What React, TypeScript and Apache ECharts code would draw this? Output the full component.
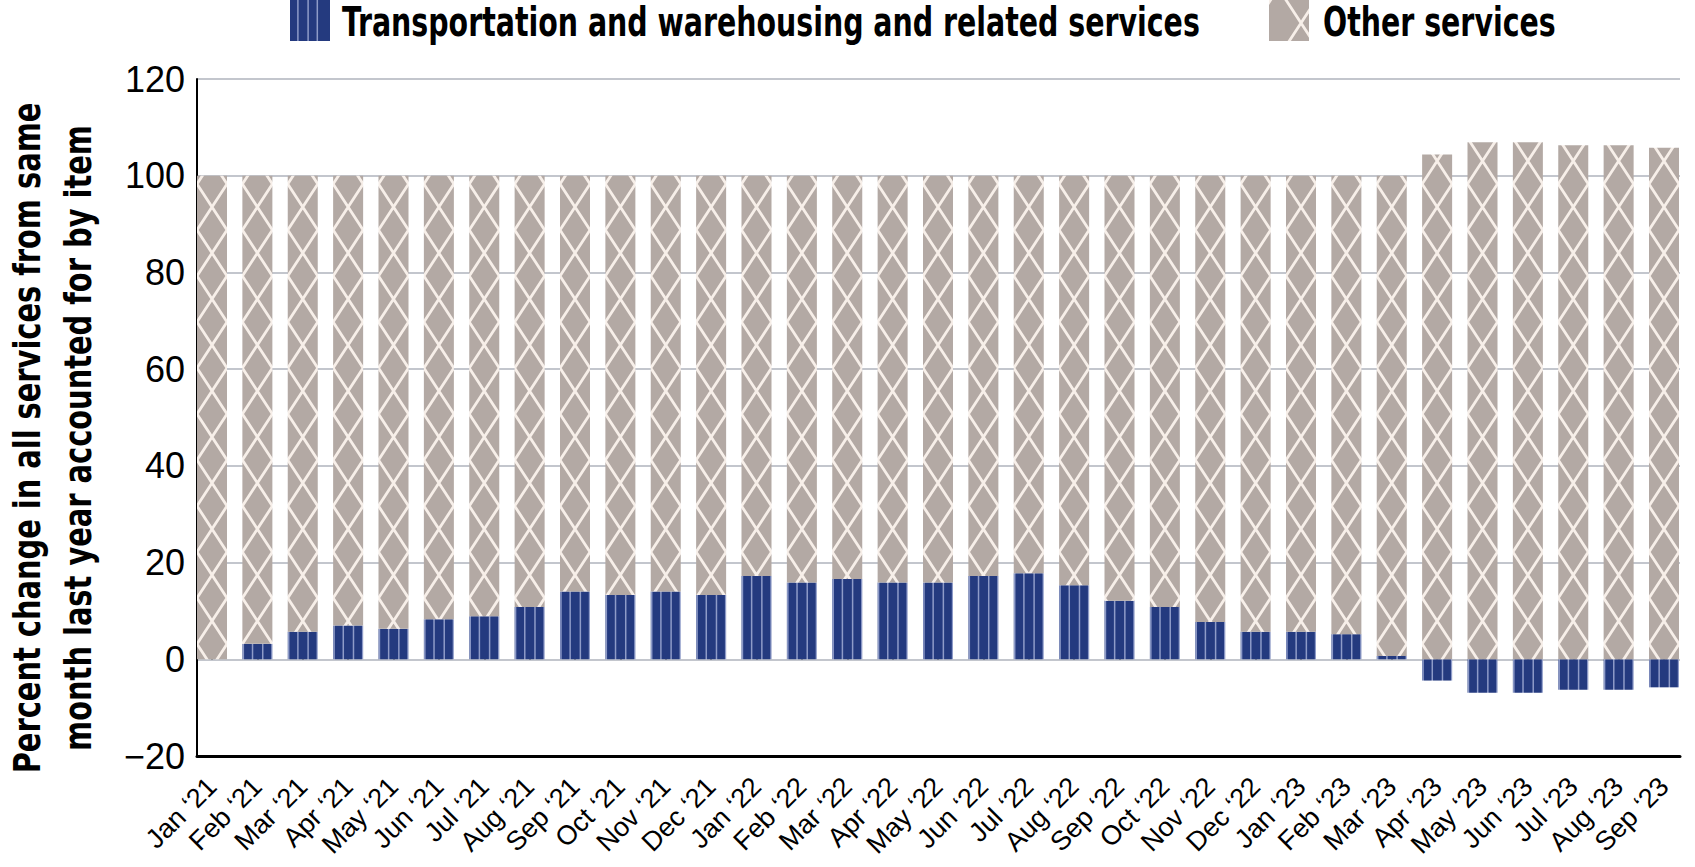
import { useEffect, useRef } from "react";
import * as echarts from "echarts";

const categories = [
  "Jan ‘21", "Feb ‘21", "Mar ‘21", "Apr ‘21", "May ‘21", "Jun ‘21",
  "Jul ‘21", "Aug ‘21", "Sep ‘21", "Oct ‘21", "Nov ‘21", "Dec ‘21",
  "Jan ‘22", "Feb ‘22", "Mar ‘22", "Apr ‘22", "May ‘22", "Jun ‘22",
  "Jul ‘22", "Aug ‘22", "Sep ‘22", "Oct ‘22", "Nov ‘22", "Dec ‘22",
  "Jan ‘23", "Feb ‘23", "Mar ‘23", "Apr ‘23", "May ‘23", "Jun ‘23",
  "Jul ‘23", "Aug ‘23", "Sep ‘23",
];

// transportation and warehousing share (percent)
const transportValues = [
  0, 3.2, 5.7, 7.0, 6.3, 8.3, 8.9, 10.8, 14.0, 13.3, 14.0, 13.3,
  17.2, 15.9, 16.6, 15.9, 15.9, 17.2, 17.8, 15.3, 12.1, 10.8, 7.7, 5.7,
  5.7, 5.2, 0.7, -4.4, -6.9, -6.9, -6.3, -6.3, -5.8,
];

// other services share (percent)
const otherValues = [
  100, 96.8, 94.3, 93.0, 93.7, 91.7, 91.1, 89.2, 86.0, 86.7, 86.0, 86.7,
  82.8, 84.1, 83.4, 84.1, 84.1, 82.8, 82.2, 84.7, 87.9, 89.2, 92.3, 94.3,
  94.3, 94.8, 99.3, 104.4, 106.9, 106.9, 106.3, 106.3, 105.8,
];

const seriesNames = ["Transportation and warehousing and related services", "Other services"];

const yTicks = { min: -20, max: 120, interval: 20 };

const CONDENSED = '"DejaVu Sans Condensed", "DejaVu Sans", sans-serif';
const SANS = '"Liberation Sans", Arial, sans-serif';

// layout: bars are flush with the y axis, so the bar grid starts half a gap left of it
const W = 1695;
const BAND = 45.375;
const BAR_W = 30;
const AXIS_X = 197;
const BAR_LEFT = AXIS_X - (BAND - BAR_W) / 2;
const TOP = 79;
const BOTTOM = 111;
const TILE_W = BAND * 8; // 363, whole number so the pattern repeats per bar

function barLefts() {
  const out: number[] = [];
  for (let k = 0; k < 8; k++) {
    out.push((AXIS_X + BAND * k) % TILE_W);
  }
  return out;
}

function stripeTile() {
  const c = document.createElement("canvas");
  c.width = TILE_W;
  c.height = 8;
  const ctx = c.getContext("2d")!;
  ctx.fillStyle = "#243a7f";
  ctx.fillRect(0, 0, c.width, c.height);
  ctx.fillStyle = "#8e9bc8";
  barLefts().forEach((bl) => {
    [0.2, 9.4, 19.6, 28.8].forEach((off) => {
      [-TILE_W, 0, TILE_W].forEach((dx) => {
        ctx.fillRect(bl + off + dx, 0, 1.5, c.height);
      });
    });
  });
  return c;
}

function crossTile() {
  const h = 46;
  const c = document.createElement("canvas");
  c.width = TILE_W;
  c.height = h;
  const ctx = c.getContext("2d")!;
  ctx.fillStyle = "#b3a9a4";
  ctx.fillRect(0, 0, c.width, c.height);
  ctx.strokeStyle = "#f7efe9";
  ctx.lineWidth = 2.8;
  const ext = 2;
  const sx = (BAR_W / h) * ext;
  barLefts().forEach((bl) => {
    [-TILE_W, 0, TILE_W].forEach((dx) => {
      const x0 = bl + dx;
      ctx.beginPath();
      ctx.moveTo(x0 - sx, -ext);
      ctx.lineTo(x0 + BAR_W + sx, h + ext);
      ctx.moveTo(x0 + BAR_W + sx, -ext);
      ctx.lineTo(x0 - sx, h + ext);
      ctx.stroke();
    });
  });
  return c;
}

export default function App() {
  const chartRef = useRef<HTMLDivElement>(null);

  useEffect(() => {
    if (!chartRef.current) return;
    const chart = echarts.init(chartRef.current, undefined, { renderer: "svg" });

    const transportColor = { image: stripeTile(), repeat: "repeat" };
    const otherColor = { image: crossTile(), repeat: "repeat" };

    const legendText = {
      fontFamily: CONDENSED,
      fontWeight: "bold",
      fontSize: 40,
      fill: "#000",
      align: "left",
      verticalAlign: "middle",
    };

    const option: any = {
      animation: false,
      backgroundColor: "#ffffff",
      grid: [
        // grid for the bars
        {
          left: BAR_LEFT,
          top: TOP,
          bottom: BOTTOM,
          width: BAND * categories.length,
          outerBoundsMode: "none",
        },
        // grid for the frame (axes and gridlines)
        { left: AXIS_X, top: TOP, bottom: BOTTOM, right: W - 1680, outerBoundsMode: "none" },
      ],
      xAxis: [
        {
          type: "category",
          gridIndex: 0,
          data: categories,
          axisLine: { show: true, lineStyle: { color: "#000", width: 1, opacity: 0 } },
          axisTick: {
            show: true,
            alignWithLabel: true,
            inside: true,
            length: 13,
            lineStyle: { color: "#000", width: 2, opacity: 1 },
          },
          axisLabel: {
            interval: 0,
            rotate: 45,
            margin: 26,
            fontSize: 27,
            fontFamily: SANS,
            color: "#000",
          },
        },
        {
          type: "value",
          gridIndex: 1,
          min: 0,
          max: 1,
          axisLine: { show: true, onZero: false, lineStyle: { color: "#000", width: 3 } },
          axisTick: { show: false },
          axisLabel: { show: false },
          splitLine: { show: false },
        },
      ],
      yAxis: [
        {
          type: "value",
          gridIndex: 0,
          ...yTicks,
          show: false,
          splitLine: { show: false },
        },
        {
          type: "value",
          gridIndex: 1,
          ...yTicks,
          axisLine: { show: true, lineStyle: { color: "#000", width: 2 } },
          axisTick: { show: false },
          axisLabel: {
            fontSize: 36,
            fontFamily: SANS,
            color: "#000",
            margin: 12,
            formatter: (v: number) => (v < 0 ? "\u2212" + Math.abs(v) : String(v)),
          },
          splitLine: { show: true, lineStyle: { color: "#c3c6cd", width: 2 } },
        },
      ],
      graphic: [
        // y axis title
        {
          type: "text",
          x: 52,
          y: 438,
          rotation: Math.PI / 2,
          scaleX: 0.845,
          style: {
            text: "Percent change in all services from same\nmonth last year accounted for by item",
            fontFamily: CONDENSED,
            fontWeight: "bold",
            fontSize: 38,
            lineHeight: 52,
            fill: "#000",
            align: "center",
            verticalAlign: "middle",
          },
        },
        // legend
        { type: "rect", shape: { x: 290, y: 0, width: 40, height: 41 }, style: { fill: transportColor } },
        { type: "text", x: 342, y: 22, scaleX: 0.79, style: { ...legendText, text: seriesNames[0] } },
        { type: "rect", shape: { x: 1269, y: 0, width: 40, height: 41 }, style: { fill: otherColor } },
        { type: "text", x: 1323, y: 22, scaleX: 0.79, style: { ...legendText, text: seriesNames[1] } },
      ],
      series: [
        {
          name: seriesNames[0],
          type: "bar",
          xAxisIndex: 0,
          yAxisIndex: 0,
          stack: "total",
          barWidth: BAR_W,
          data: transportValues,
          itemStyle: { color: transportColor },
        },
        {
          name: seriesNames[1],
          type: "bar",
          xAxisIndex: 0,
          yAxisIndex: 0,
          stack: "total",
          barWidth: BAR_W,
          data: otherValues,
          itemStyle: { color: otherColor },
        },
      ],
    };

    chart.setOption(option);
    return () => {
      chart.dispose();
    };
  }, []);

  return (
    <div
      ref={chartRef}
      style={{ position: "fixed", left: 0, top: 0, width: "100vw", height: "100vh" }}
    />
  );
}
